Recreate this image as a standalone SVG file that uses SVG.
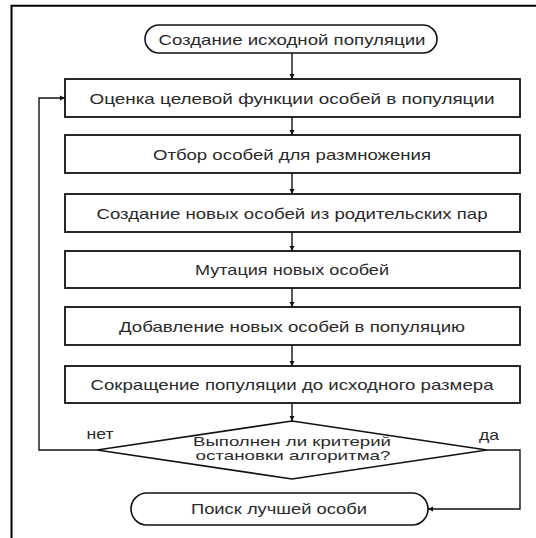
<svg xmlns="http://www.w3.org/2000/svg" width="536" height="538" viewBox="0 0 536 538">
<style>
.box{fill:#fff;stroke:#111;stroke-width:1.8}
.term{fill:#fff;stroke:#111;stroke-width:1.6}
.t{font-family:"Liberation Sans",Arial,sans-serif;font-size:15px;fill:#2a2a2a;text-anchor:middle}
.d{font-size:13.5px}
.c{fill:none;stroke:#111;stroke-width:1.4}
</style>
<defs>
<marker id="ah" markerWidth="6" markerHeight="6" refX="5" refY="3" orient="auto" markerUnits="userSpaceOnUse">
<path d="M0,0.5 L5,3 L0,5.5 Z" fill="#111"/>
</marker>
</defs>
<rect width="536" height="538" fill="#fff"/>
<path d="M11.5,538 V5.8 H536" fill="none" stroke="#000" stroke-width="2"/>

<g id="connectors">
<line class="c" x1="292" y1="53" x2="292" y2="79" marker-end="url(#ah)"/>
<line class="c" x1="292" y1="117" x2="292" y2="135" marker-end="url(#ah)"/>
<line class="c" x1="292" y1="173" x2="292" y2="194" marker-end="url(#ah)"/>
<line class="c" x1="292" y1="232" x2="292" y2="251" marker-end="url(#ah)"/>
<line class="c" x1="292" y1="288" x2="292" y2="307" marker-end="url(#ah)"/>
<line class="c" x1="292" y1="345" x2="292" y2="366" marker-end="url(#ah)"/>
<line class="c" x1="292" y1="403" x2="292" y2="421" marker-end="url(#ah)"/>
<path class="c" d="M97,450 H39 V98 H65" marker-end="url(#ah)"/>
<path class="c" d="M487,450 H520 V509 H428" marker-end="url(#ah)"/>
<text class="t" x="100" y="439" textLength="27" lengthAdjust="spacingAndGlyphs">нет</text>
<text class="t" x="489" y="440" textLength="20" lengthAdjust="spacingAndGlyphs">да</text>
</g>

<g id="start">
<rect class="term" x="145" y="25" width="292" height="28" rx="14"/>
<text class="t" x="292" y="44.5" textLength="267" lengthAdjust="spacingAndGlyphs">Создание исходной популяции</text>
</g>
<g id="eval">
<rect class="box" x="65" y="79" width="455" height="38"/>
<text class="t" x="292" y="103.5" textLength="405" lengthAdjust="spacingAndGlyphs">Оценка целевой функции особей в популяции</text>
</g>
<g id="select">
<rect class="box" x="65" y="135" width="455" height="38"/>
<text class="t" x="292" y="159.5" textLength="278" lengthAdjust="spacingAndGlyphs">Отбор особей для размножения</text>
</g>
<g id="crossover">
<rect class="box" x="65" y="194" width="455" height="38"/>
<text class="t" x="292" y="218.5" textLength="391" lengthAdjust="spacingAndGlyphs">Создание новых особей из родительских пар</text>
</g>
<g id="mutation">
<rect class="box" x="65" y="251" width="455" height="37"/>
<text class="t" x="292" y="275" textLength="194" lengthAdjust="spacingAndGlyphs">Мутация новых особей</text>
</g>
<g id="add">
<rect class="box" x="65" y="307" width="455" height="38"/>
<text class="t" x="292" y="331.5" textLength="346" lengthAdjust="spacingAndGlyphs">Добавление новых особей в популяцию</text>
</g>
<g id="reduce">
<rect class="box" x="65" y="366" width="455" height="37"/>
<text class="t" x="292" y="390" textLength="403" lengthAdjust="spacingAndGlyphs">Сокращение популяции до исходного размера</text>
</g>
<g id="decision">
<polygon class="term" points="292,421 487,450 292,479 97,450"/>
<text class="t d" x="292" y="446" textLength="198" lengthAdjust="spacingAndGlyphs">Выполнен ли критерий</text>
<text class="t d" x="293" y="460" textLength="195" lengthAdjust="spacingAndGlyphs">остановки алгоритма?</text>
</g>
<g id="end">
<rect class="term" x="131" y="493" width="297" height="32" rx="16"/>
<text class="t" x="279" y="514" textLength="176" lengthAdjust="spacingAndGlyphs">Поиск лучшей особи</text>
</g>
</svg>
